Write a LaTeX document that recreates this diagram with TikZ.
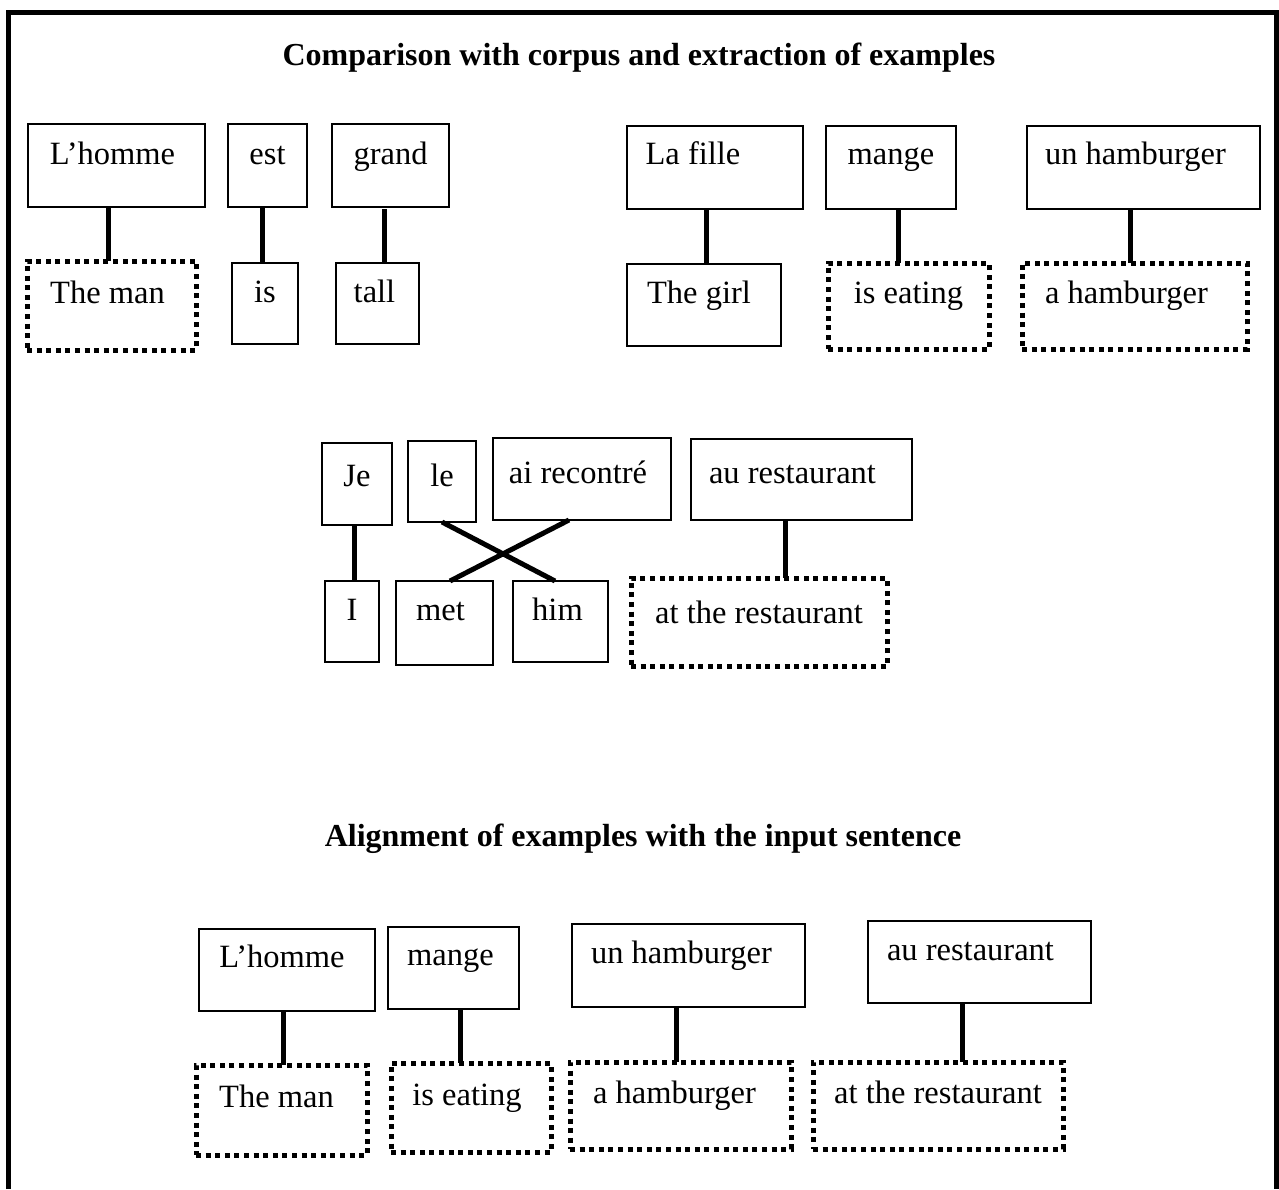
\documentclass[tikz,border=0pt]{standalone}
\usepackage{fontspec}
\setmainfont{Liberation Serif}
\begin{document}
\begin{tikzpicture}[x=1pt, y=-1pt,
  word/.style={draw, line width=1.5pt, inner sep=0pt, outer sep=0pt, anchor=base, font=\fontsize{32.5}{38}\selectfont},
  gloss/.style={word, line width=5pt, dash pattern=on 5pt off 4.6pt},
  link/.style={line width=5pt},
  heading/.style={anchor=base, inner sep=0pt, font=\fontsize{32}{38}\selectfont\bfseries}]
  \useasboundingbox (0,0) rectangle (1279,1189);
  % frame (open at the bottom)
  \draw[line width=5.5pt] (8.5,1189) |- (1276.5,12.5) -- (1276.5,1189);
  \node[heading] (titleA) at (639,65) {Comparison with corpus and extraction of examples};
  \node[heading] (titleB) at (643,846) {Alignment of examples with the input sentence};
  % L'homme est grand
  \node[word, minimum width=177pt, text height=40pt, text depth=43pt] (lhommeA) at (116.5,164) {L’homme\kern8pt};
  \node[word, minimum width=79pt, text height=40pt, text depth=43pt] (est) at (267.5,164) {est};
  \node[word, minimum width=117pt, text height=40pt, text depth=43pt] (grand) at (390.5,164) {grand};
  \node[gloss, minimum width=169pt, text height=42pt, text depth=47pt] (themanA) at (111.5,303) {The man\kern8pt};
  \node[word, minimum width=66pt, text height=39pt, text depth=42pt] (is) at (265,302) {is};
  \node[word, minimum width=83pt, text height=39pt, text depth=42pt] (tall) at (377.5,302) {tall\kern6pt};
  \draw[link] ([xshift=-8.5pt]lhommeA.south) -- ([xshift=-3.5pt]themanA.north);
  \draw[link] ([xshift=-5.5pt]est.south) -- ([xshift=-3pt]is.north);
  \draw[link] ([xshift=-6.5pt,yshift=-2pt]grand.south) -- ([xshift=6.5pt]tall.north);
  % La fille mange un hamburger
  \node[word, minimum width=176pt, text height=38pt, text depth=45pt] (lafille) at (715,164) {La fille\kern44pt};
  \node[word, minimum width=130pt, text height=38pt, text depth=45pt] (mangeA) at (891,164) {mange};
  \node[word, minimum width=233pt, text height=38pt, text depth=45pt] (unhamA) at (1143.5,164) {un hamburger\kern16pt};
  \node[word, minimum width=154pt, text height=39pt, text depth=43pt] (thegirl) at (704,303) {The girl\kern10pt};
  \node[gloss, minimum width=161pt, text height=40pt, text depth=46pt] (iseatingA) at (908.5,303) {is eating};
  \node[gloss, minimum width=225pt, text height=40pt, text depth=46pt] (ahamA) at (1134.5,303) {a hamburger\kern16pt};
  \draw[link] ([xshift=-9pt]lafille.south) -- ([xshift=2pt]thegirl.north);
  \draw[link] ([xshift=7pt]mangeA.south) -- ([xshift=-10.5pt]iseatingA.north);
  \draw[link] ([xshift=-13pt]unhamA.south) -- ([xshift=-4pt]ahamA.north);
  % Je le ai recontré au restaurant
  \node[word, minimum width=70pt, text height=43pt, text depth=39pt] (je) at (357,486) {Je};
  \node[word, minimum width=68pt, text height=45pt, text depth=36pt] (le) at (442,486) {le};
  \node[word, minimum width=178pt, text height=45pt, text depth=37pt] (airec) at (582,483) {ai recontré\kern8pt};
  \node[word, minimum width=221pt, text height=44pt, text depth=37pt] (aurestA) at (801.5,483) {au restaurant\kern18pt};
  \node[word, minimum width=54pt, text height=39pt, text depth=42pt] (i) at (352,620) {I};
  \node[word, minimum width=97pt, text height=39pt, text depth=45pt] (met) at (444.5,620) {met\kern8pt};
  \node[word, minimum width=95pt, text height=39pt, text depth=42pt] (him) at (560.5,620) {him\kern6pt};
  \node[gloss, minimum width=256pt, text height=45pt, text depth=43pt] (atrestA) at (759,623) {at the restaurant};
  \draw[link] ([xshift=-3pt]je.south) -- ([xshift=2pt]i.north);
  \draw[link] (le.south) -- ([xshift=-5.5pt]him.north);
  \draw[link] ([xshift=-13pt]airec.south) -- ([xshift=5.5pt]met.north);
  \draw[link] ([xshift=-16.5pt]aurestA.south) -- ([xshift=26pt]atrestA.north);
  % alignment with the input sentence
  \node[word, minimum width=176pt, text height=38pt, text depth=44pt] (lhommeB) at (287,967) {L’homme\kern10pt};
  \node[word, minimum width=131pt, text height=38pt, text depth=44pt] (mangeB) at (453.5,965) {mange\kern6pt};
  \node[word, minimum width=233pt, text height=39pt, text depth=44pt] (unhamB) at (688.5,963) {un hamburger\kern14pt};
  \node[word, minimum width=223pt, text height=39pt, text depth=43pt] (aurestB) at (979.5,960) {au restaurant\kern18pt};
  \node[gloss, minimum width=171pt, text height=42pt, text depth=48pt] (themanB) at (281.5,1107) {The man\kern10pt};
  \node[gloss, minimum width=160pt, text height=42pt, text depth=47pt] (iseatingB) at (471,1105) {is eating\kern8pt};
  \node[gloss, minimum width=221pt, text height=41pt, text depth=46pt] (ahamB) at (680.5,1103) {a hamburger\kern12pt};
  \node[gloss, minimum width=250pt, text height=41pt, text depth=46pt] (atrestB) at (938,1103) {at the restaurant};
  \draw[link] ([xshift=-4pt]lhommeB.south) -- ([xshift=1.5pt]themanB.north);
  \draw[link] ([xshift=7pt]mangeB.south) -- ([xshift=-10.5pt]iseatingB.north);
  \draw[link] ([xshift=-12pt]unhamB.south) -- ([xshift=-4pt]ahamB.north);
  \draw[link] ([xshift=-17.5pt]aurestB.south) -- ([xshift=24pt]atrestB.north);
\end{tikzpicture}
\end{document}
